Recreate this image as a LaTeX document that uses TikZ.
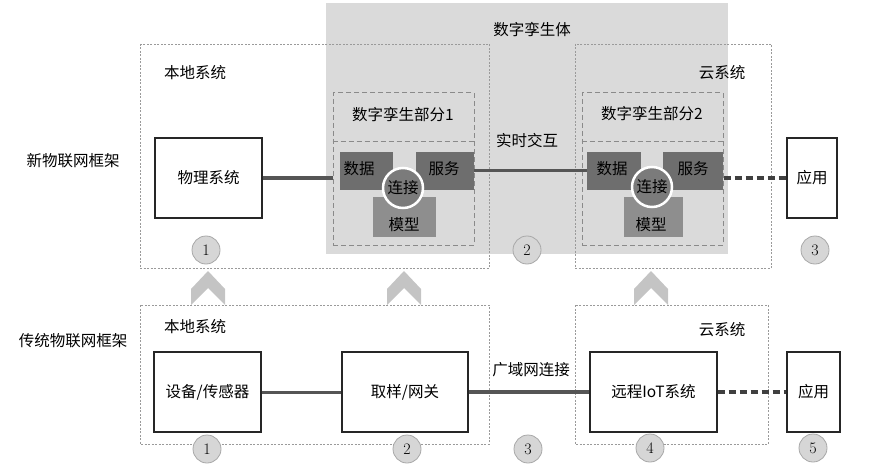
\documentclass[tikz,border=0pt]{standalone}
\usepackage{fontspec}
\newfontfamily\cjk{Noto Sans CJK SC}
\definecolor{twin}{HTML}{DADADA}
\definecolor{regline}{HTML}{9A9A9A}
\definecolor{partline}{HTML}{8A8A8A}
\definecolor{darkfill}{HTML}{6E6E6E}
\definecolor{midfill}{HTML}{8E8E8E}
\definecolor{circfill}{HTML}{7B7B7B}
\definecolor{linkcol}{HTML}{555555}
\definecolor{numfill}{HTML}{D6D6D6}
\definecolor{numline}{HTML}{A8A8A8}
\definecolor{chev}{HTML}{C4C4C4}
\begin{document}
\begin{tikzpicture}[x=1pt,y=-1pt,
  txt/.style={font=\cjk\fontsize{15.5}{17}\selectfont, inner sep=0pt},
  region/.style={draw=regline, line width=0.8pt, dash pattern=on 2pt off 1.5pt},
  part/.style={draw=partline, line width=1pt, dash pattern=on 5pt off 3pt},
  sysbox/.style={draw=black!85, line width=1.1pt, fill=white, minimum height=80pt, txt},
  darkbox/.style={fill=darkfill, minimum width=54pt, minimum height=38pt, inner sep=0pt},
  midbox/.style={fill=midfill, minimum height=40pt, inner sep=0pt},
  conn/.style={circle, fill=circfill, draw=white, line width=2.5pt, minimum size=40pt, inner sep=0pt, txt},
  numc/.style={circle, fill=numfill, draw=numline, line width=0.8pt, minimum size=28pt, inner sep=0pt, font=\fontsize{16}{18}\selectfont},
  link/.style={draw=linkcol, line width=3pt},
  wlink/.style={draw=linkcol, line width=4pt},
  dlink/.style={draw=black!75, line width=4pt, dash pattern=on 7pt off 4pt},
  chevron/.style={fill=chev}
]
\useasboundingbox (0,0) rectangle (877,473);

% digital twin area
\fill[twin] (326,3) rectangle (728,254);
\node[txt] (twinlbl) at (532,30) {数字孪生体};

% regions (top)
\draw[region] (140,44) rectangle (489,268);
\draw[region] (575,44) rectangle (771,268);
\node[txt] (loc1) at (195,73) {本地系统};
\node[txt] (cld1) at (722,73) {云系统};

% regions (bottom)
\draw[region] (140,305) rectangle (489,444);
\draw[region] (575,305) rectangle (768,444);
\node[txt] (loc2) at (195,327) {本地系统};
\node[txt] (cld2) at (722,330) {云系统};

% row labels
\node[txt] (rownew) at (73,161) {新物联网框架};
\node[txt] (rowold) at (73,341) {传统物联网框架};

% digital twin parts
\node[part, minimum width=141pt, minimum height=152pt, inner sep=0pt] (p1) at (403.5,169) {};
\node[part, minimum width=141pt, minimum height=152pt, inner sep=0pt] (p2) at (652.5,169) {};
\draw[part] (p1.west |- 0,142) -- (p1.east |- 0,142);
\draw[part] (p2.west |- 0,142) -- (p2.east |- 0,142);
\node[txt] (p1lbl) at (403,115) {数字孪生部分1};
\node[txt] (p2lbl) at (652,114) {数字孪生部分2};

% part 1 content
\node[darkbox, minimum width=53pt] (data1) at (366.5,171) {};
\node[darkbox, minimum width=58pt] (serv1) at (445,171) {};
\node[midbox, minimum width=63pt] (model1) at (404.5,217) {};
\node[txt] at (359,169) {数据};
\node[txt] at (444,169) {服务};
\node[txt] at (404,225) {模型};
\node[conn] (conn1) at (403,188) {连接};

% part 2 content
\node[darkbox, minimum width=54pt] (data2) at (614,171) {};
\node[darkbox, minimum width=60pt] (serv2) at (693,171) {};
\node[midbox, minimum width=59pt] (model2) at (653.5,217) {};
\node[txt] at (612,169) {数据};
\node[txt] at (693,169) {服务};
\node[txt] at (651,225) {模型};
\node[conn] (conn2) at (652,187) {连接};

% top systems
\node[sysbox, minimum width=107pt] (phys) at (208.5,178) {物理系统};
\node[sysbox, minimum width=50pt] (app1) at (812,178) {应用};

\draw[link] (phys.east) -- (phys.east -| p1.west);
\draw[link] (serv1.east) -- (data2.west);
\node[txt] (rt) at (527,141) {实时交互};
\draw[dlink] (app1.west -| p2.east) -- (app1.west);

% bottom systems
\node[sysbox, minimum width=107pt] (dev) at (207.5,392) {设备/传感器};
\node[sysbox, minimum width=126pt] (gw) at (405,392) {取样/网关};
\node[sysbox, minimum width=127pt] (iot) at (653.5,392) {远程IoT系统};
\node[sysbox, minimum width=53pt] (app2) at (813.5,392) {应用};

\draw[link] (dev.east) -- (gw.west);
\draw[wlink] (gw.east) -- (iot.west);
\node[txt] (wan) at (531,370) {广域网连接};
\draw[dlink] (iot.east) -- (app2.west);

% chevrons
\foreach \c in {208,404,651}{
  \fill[chevron] (\c-17,305) -- (\c-17,289) -- (\c,271) -- (\c+17,289) -- (\c+17,305) -- (\c,288) -- cycle;
}

% number circles top
\node[numc] (t1) at (206,250) {1};
\node[numc] (t2) at (527,250) {2};
\node[numc] (t3) at (815,250) {3};
% number circles bottom
\node[numc] (b1) at (207,449) {1};
\node[numc] (b2) at (407,449) {2};
\node[numc] (b3) at (528,449) {3};
\node[numc] (b4) at (650,448) {4};
\node[numc] (b5) at (813,448) {5};
\end{tikzpicture}
\end{document}
